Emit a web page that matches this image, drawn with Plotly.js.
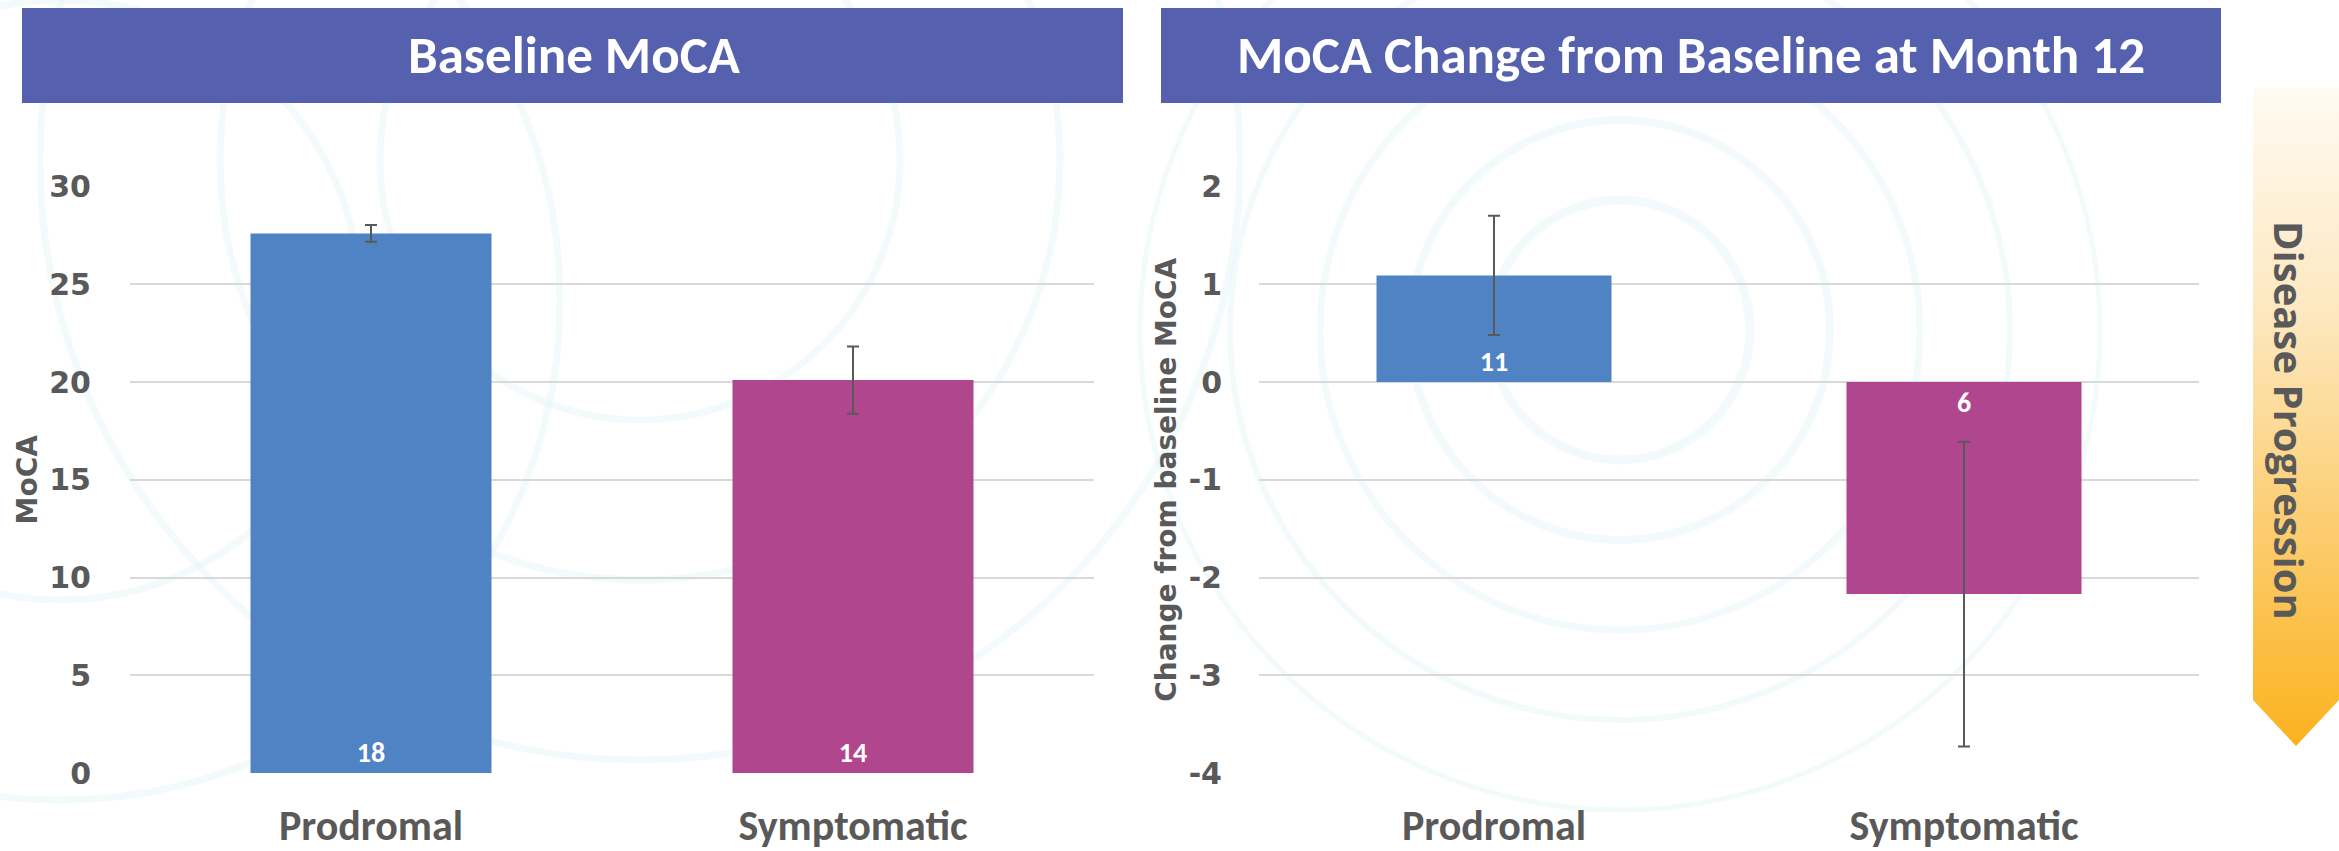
<!DOCTYPE html>
<html>
<head>
<meta charset="utf-8">
<script src="https://cdn.plot.ly/plotly-3.0.1.min.js"></script>
<style>html,body{margin:0;padding:0;background:#fff;}#chart{width:2339px;height:851px;}</style>
</head>
<body>
<div id="chart"></div>
<script>
// ---- data ----
const categories = ['Prodromal', 'Symptomatic'];
const baselineMoCA = [27.6, 20.1];
const baselineErr = [0.43, 1.72];
const baselineN = ['18', '14'];
const changeMoCA = [1.09, -2.17];
const changeErr = [0.61, 1.56];
const changeN = ['11', '6'];
const baselineTicks = [0, 5, 10, 15, 20, 25, 30];
const baselineTickText = ['0', '5', '10', '15', '20', '25', '30'];
const changeTicks = [-4, -3, -2, -1, 0, 1, 2];
const changeTickText = ['-4', '-3', '-2', '-1', '0', '1', '2'];
const barColors = ['#4F83C4', '#B0468E'];

const W = 2339, H = 851;
const px = v => v / W;
const py = v => 1 - v / H;

const narrow = 'Carlito, Lato, sans-serif';
const wide = 'DejaVu Sans, Verdana, sans-serif';
const grey = '#595959';

const traces = [
  {
    type: 'bar', x: categories, y: baselineMoCA, xaxis: 'x', yaxis: 'y',
    marker: {color: barColors},
    error_y: {type: 'data', array: baselineErr, visible: true, color: grey, thickness: 2, width: 6},
    text: baselineN, textposition: 'inside', insidetextanchor: 'start', constraintext: 'none',
    textangle: 0,
    textfont: {family: narrow, size: 28, color: '#ffffff', weight: 'bold'},
    hoverinfo: 'x+y'
  },
  {
    type: 'bar', x: categories, y: changeMoCA, xaxis: 'x2', yaxis: 'y2',
    marker: {color: barColors},
    error_y: {type: 'data', array: changeErr, visible: true, color: grey, thickness: 2, width: 6},
    text: changeN, textposition: 'inside', insidetextanchor: 'start', constraintext: 'none',
    textangle: 0,
    textfont: {family: narrow, size: 28, color: '#ffffff', weight: 'bold'},
    hoverinfo: 'x+y'
  }
];

// background swirl (decoration)
const arcs = [];
function circ(cx, cy, r, w) { arcs.push(`<circle cx="${cx}" cy="${cy}" r="${r}" fill="none" stroke="#DDF1F7" stroke-opacity="0.35" stroke-width="${w}"/>`); }
[130, 210, 300, 390, 480].forEach((r, i) => circ(1620, 330, r, 9 - i));
[260, 420, 600].forEach(r => circ(640, 160, r, 7));
[300, 500].forEach(r => circ(60, 300, r, 7));
const bgSvg = `<svg xmlns="http://www.w3.org/2000/svg" width="${W}" height="${H}" viewBox="0 0 ${W} ${H}">${arcs.join('')}</svg>`;

// disease progression arrow
const arrowSvg = `<svg xmlns="http://www.w3.org/2000/svg" width="86" height="660" viewBox="0 0 86 660">
<defs><linearGradient id="g" x1="0" y1="0" x2="0" y2="1">
<stop offset="0" stop-color="#FFFBF3"/><stop offset="0.35" stop-color="#FDE7BE"/><stop offset="1" stop-color="#FBB21E"/></linearGradient></defs>
<polygon points="0,0 86,0 86,612 43,658 0,612" fill="url(#g)"/></svg>`;

const svgURI = s => 'data:image/svg+xml;charset=utf-8,' + encodeURIComponent(s);

const layout = {
  width: W, height: H,
  margin: {l: 0, r: 0, t: 0, b: 0, pad: 0},
  paper_bgcolor: '#ffffff', plot_bgcolor: 'rgba(0,0,0,0)',
  showlegend: false, bargap: 0.5,
  xaxis: {
    domain: [px(130), px(1094)], anchor: 'y', ticks: '', showline: false, showgrid: false,
    tickfont: {family: narrow, size: 42, color: grey, weight: 'bold'}, ticklabelstandoff: 24
  },
  yaxis: {
    domain: [py(773), py(186.5)], anchor: 'x', range: [0, 30], tickvals: baselineTicks, ticktext: baselineTickText,
    showgrid: true, gridcolor: '#D9D9D9', gridwidth: 2, zeroline: false, showline: false, ticks: '',
    tickfont: {family: wide, size: 30, color: grey, weight: 'bold'}, ticklabelstandoff: 38,
    title: {text: 'MoCA', font: {family: wide, size: 28, color: grey, weight: 'bold'}, standoff: 3}
  },
  xaxis2: {
    domain: [px(1259), px(2199)], anchor: 'y2', ticks: '', showline: false, showgrid: false,
    tickfont: {family: narrow, size: 42, color: grey, weight: 'bold'}, ticklabelstandoff: 24
  },
  yaxis2: {
    domain: [py(773), py(186.5)], anchor: 'x2', range: [-4, 2], tickvals: changeTicks, ticktext: changeTickText,
    showgrid: true, gridcolor: '#D9D9D9', gridwidth: 2, zeroline: false, showline: false, ticks: '',
    tickfont: {family: wide, size: 30, color: grey, weight: 'bold'}, ticklabelstandoff: 36,
    title: {text: 'Change from baseline MoCA', font: {family: wide, size: 28, color: grey, weight: 'bold'}, standoff: 3}
  },
  shapes: [
    {type: 'rect', xref: 'paper', yref: 'paper', x0: px(22), x1: px(1123), y0: py(103), y1: py(8), fillcolor: '#5561AE', line: {width: 0}, layer: 'above'},
    {type: 'rect', xref: 'paper', yref: 'paper', x0: px(1161), x1: px(2221), y0: py(103), y1: py(8), fillcolor: '#5561AE', line: {width: 0}, layer: 'above'}
  ],
  images: [
    {source: svgURI(bgSvg), xref: 'paper', yref: 'paper', x: 0, y: 1, sizex: 1, sizey: 1, sizing: 'stretch', xanchor: 'left', yanchor: 'top', layer: 'below'},
    {source: svgURI(arrowSvg), xref: 'paper', yref: 'paper', x: px(2253), y: py(88), sizex: px(86), sizey: 660 / H, sizing: 'stretch', xanchor: 'left', yanchor: 'top', layer: 'below'}
  ],
  annotations: [
    {text: 'Baseline MoCA', xref: 'paper', yref: 'paper', x: px(574), y: py(55), xanchor: 'center', yanchor: 'middle', showarrow: false,
     font: {family: narrow, size: 53, color: '#ffffff', weight: 'bold'}},
    {text: 'MoCA Change from Baseline at Month 12', xref: 'paper', yref: 'paper', x: px(1691), y: py(55), xanchor: 'center', yanchor: 'middle', showarrow: false,
     font: {family: narrow, size: 53, color: '#ffffff', weight: 'bold'}},
    {text: 'Disease Progression', xref: 'paper', yref: 'paper', x: px(2290), y: py(420), xanchor: 'center', yanchor: 'middle', showarrow: false, textangle: 90,
     font: {family: 'Open Sans, DejaVu Sans, sans-serif', size: 40, color: grey, weight: 'bold'}}
  ]
};

Plotly.newPlot('chart', traces, layout, {staticPlot: true, displayModeBar: false});
</script>
</body>
</html>
